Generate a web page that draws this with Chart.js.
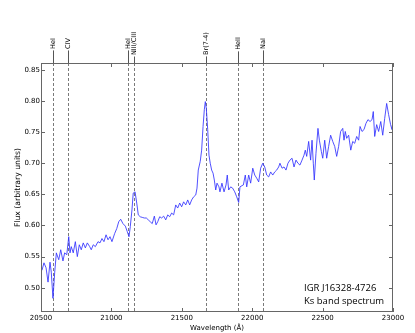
<!DOCTYPE html>
<html>
<head>
<meta charset="utf-8">
<script src="https://cdn.jsdelivr.net/npm/chart.js@4.4.0/dist/chart.umd.min.js"></script>
<style>
html,body{margin:0;padding:0;background:#fff;}
#wrap{width:415px;height:333px;}
</style>
</head>
<body>
<div id="wrap"><canvas id="spec" width="415" height="333"></canvas></div>
<script>
// spectrum: wavelength (A) and flux
var waves = [20507,20521,20536,20550,20564,20573,20585,20597,20609,20626,20640,20656,20668,20683,20697,20706,20715,20729,20744,20758,20772,20786,20800,20815,20829,20846,20857,20871,20886,20905,20919,20933,20947,20962,20976,20990,21004,21023,21038,21052,21066,21082,21099,21113,21125,21134,21146,21155,21168,21180,21191,21205,21219,21234,21248,21262,21276,21290,21305,21317,21329,21343,21357,21371,21386,21400,21414,21428,21442,21457,21471,21485,21499,21513,21528,21542,21556,21570,21584,21599,21608,21617,21631,21641,21651,21660,21667,21674,21684,21693,21702,21712,21722,21731,21741,21750,21764,21771,21785,21800,21814,21823,21833,21847,21861,21876,21890,21904,21913,21928,21937,21951,21961,21975,21989,22004,22018,22032,22046,22060,22075,22089,22103,22117,22131,22146,22160,22174,22188,22197,22212,22226,22240,22254,22268,22283,22297,22311,22325,22339,22354,22368,22377,22387,22401,22415,22425,22434,22441,22453,22467,22477,22491,22501,22515,22529,22543,22557,22572,22586,22600,22614,22628,22643,22652,22661,22671,22685,22700,22714,22728,22742,22756,22766,22780,22794,22808,22822,22837,22851,22860,22870,22884,22898,22913,22927,22941,22955,22969,22983,22993,23000];
var flux = [0.528,0.540,0.532,0.509,0.541,0.525,0.483,0.524,0.556,0.545,0.561,0.543,0.556,0.553,0.582,0.556,0.566,0.556,0.574,0.550,0.569,0.561,0.572,0.564,0.572,0.566,0.561,0.569,0.566,0.574,0.572,0.579,0.574,0.585,0.577,0.582,0.574,0.587,0.595,0.606,0.610,0.603,0.599,0.590,0.582,0.598,0.625,0.652,0.654,0.636,0.617,0.614,0.613,0.612,0.612,0.609,0.606,0.603,0.615,0.601,0.606,0.614,0.612,0.615,0.609,0.617,0.614,0.620,0.617,0.633,0.628,0.636,0.630,0.638,0.633,0.641,0.633,0.641,0.646,0.649,0.660,0.689,0.703,0.721,0.759,0.786,0.799,0.788,0.754,0.713,0.700,0.689,0.684,0.673,0.657,0.668,0.662,0.654,0.668,0.654,0.665,0.681,0.657,0.662,0.660,0.654,0.646,0.637,0.662,0.664,0.665,0.681,0.662,0.681,0.668,0.692,0.681,0.676,0.670,0.692,0.700,0.694,0.681,0.678,0.686,0.681,0.686,0.689,0.694,0.700,0.692,0.694,0.689,0.700,0.705,0.708,0.694,0.705,0.700,0.697,0.705,0.713,0.721,0.711,0.735,0.705,0.737,0.700,0.673,0.716,0.756,0.737,0.719,0.708,0.737,0.708,0.727,0.745,0.735,0.727,0.711,0.727,0.751,0.756,0.737,0.751,0.740,0.745,0.721,0.735,0.732,0.743,0.737,0.759,0.751,0.754,0.764,0.770,0.767,0.770,0.783,0.743,0.762,0.751,0.767,0.745,0.772,0.796,0.778,0.762,0.754,0.770];

// line identifications
var lineNames = ["HeI","CIV","HeI","NIII/CIII","Br(7-4)","HeII","NaI"];
var lineWaves = [20583,20694,21120,21163,21669,21901,22079];

// ticks
var xTicks = [20500,21000,21500,22000,22500,23000];
var yTicks = [0.50,0.55,0.60,0.65,0.70,0.75,0.80,0.85];

var noteLines = ["IGR J16328-4726","Ks band spectrum"];

var pts = [];
for (var i=0;i<waves.length;i++){pts.push({x:waves[i],y:flux[i]});}

var tickFont = {family:"'DejaVu Sans'", size:7};

var spectrumMarks = {
  id:'spectrumMarks',
  beforeDatasetsDraw: function(chart){
    var ctx=chart.ctx, a=chart.chartArea, xs=chart.scales.x;
    ctx.save();
    ctx.strokeStyle='#7a7a7a';
    ctx.lineWidth=1;
    ctx.setLineDash([3,2]);
    for (var i=0;i<lineWaves.length;i++){
      var px=Math.round(xs.getPixelForValue(lineWaves[i]))+0.5;
      ctx.beginPath();ctx.moveTo(px,a.top);ctx.lineTo(px,a.bottom);ctx.stroke();
    }
    ctx.restore();
  },
  afterDraw: function(chart){
    var ctx=chart.ctx, a=chart.chartArea, xs=chart.scales.x, ys=chart.scales.y;
    ctx.save();
    // frame
    ctx.strokeStyle='#666';ctx.lineWidth=1;
    ctx.strokeRect(a.left+0.5,a.top+0.5,a.right-a.left-1,a.bottom-a.top-1);
    // inward ticks
    ctx.strokeStyle='#666';
    ctx.beginPath();
    xTicks.forEach(function(v){
      var px=Math.round(xs.getPixelForValue(v))+0.5;
      ctx.moveTo(px,a.bottom);ctx.lineTo(px,a.bottom-4);
      ctx.moveTo(px,a.top);ctx.lineTo(px,a.top+4);
    });
    yTicks.forEach(function(v){
      var py=Math.round(ys.getPixelForValue(v))+0.5;
      ctx.moveTo(a.left,py);ctx.lineTo(a.left+4,py);
      ctx.moveTo(a.right,py);ctx.lineTo(a.right-4,py);
    });
    ctx.stroke();
    // line identifications above the frame
    ctx.font="6.5px 'DejaVu Sans'";
    ctx.fillStyle='#000';
    ctx.textAlign='center';ctx.textBaseline='middle';
    for (var i=0;i<lineWaves.length;i++){
      var px=Math.round(xs.getPixelForValue(lineWaves[i]))+0.5;
      var w=ctx.measureText(lineNames[i]).width;
      ctx.beginPath();ctx.strokeStyle='#555';
      ctx.moveTo(px,43.5+w/2+1.5);ctx.lineTo(px,a.top);ctx.stroke();
      ctx.save();
      ctx.translate(px,43.5);ctx.rotate(-Math.PI/2);
      ctx.fillText(lineNames[i],0,0);
      ctx.restore();
    }
    // note
    ctx.font="9.5px 'Open Sans'";
    ctx.textAlign='left';ctx.textBaseline='alphabetic';
    ctx.fillText(noteLines[0],304,291);
    ctx.fillText(noteLines[1],304,304);
    ctx.restore();
  }
};

var ctx=document.getElementById('spec').getContext('2d');
var chart=new Chart(ctx,{
  type:'line',
  data:{datasets:[{
    data:pts,
    borderColor:'rgba(50,50,255,0.85)',
    borderWidth:1,
    pointRadius:0,
    tension:0,
    fill:false
  }]},
  options:{
    responsive:false,
    animation:false,
    layout:{padding:{top:63,right:22,left:0,bottom:0}},
    plugins:{legend:{display:false},tooltip:{enabled:false}},
    scales:{
      x:{
        type:'linear',min:20500,max:23000,
        afterBuildTicks:function(s){s.ticks=xTicks.map(function(v){return {value:v};});},
        afterFit:function(s){s.height=21;},
        grid:{display:false,drawTicks:false},
        border:{display:false},
        ticks:{font:tickFont,color:'#000',padding:2,maxRotation:0,autoSkip:false,
          callback:function(v){return String(v);}},
        title:{display:true,text:'Wavelength (\u00c5)',font:{family:"'DejaVu Sans'",size:7},color:'#000',padding:{top:0,bottom:1}}
      },
      y:{
        min:0.461,max:0.861,
        afterBuildTicks:function(s){s.ticks=yTicks.map(function(v){return {value:v};});},
        afterFit:function(s){s.width=41;},
        grid:{display:false,drawTicks:false},
        border:{display:false},
        ticks:{font:tickFont,color:'#000',padding:1,autoSkip:false,
          callback:function(v){return v.toFixed(2);}},
        title:{display:true,text:'Flux (arbitrary units)',font:{family:"'DejaVu Sans'",size:7.7},color:'#000',padding:{top:13,bottom:0}}
      }
    }
  },
  plugins:[spectrumMarks]
});
</script>
</body>
</html>
